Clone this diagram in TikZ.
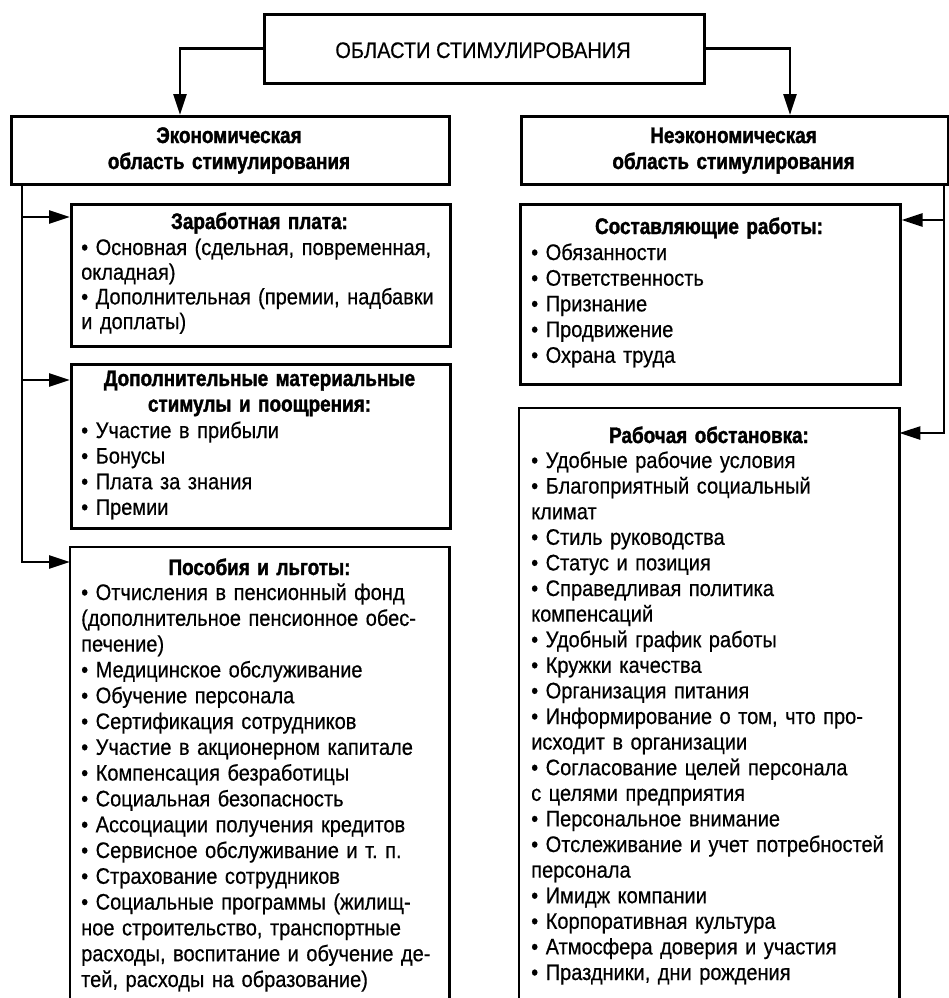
\documentclass[tikz,border=0pt]{standalone}
\usepackage{fontspec}
\setmainfont{Liberation Sans}[FakeStretch=0.89, FakeBold=0.5,
  BoldFeatures={FakeStretch=0.84, FakeBold=1.5}]
\usetikzlibrary{arrows.meta}
\begin{document}
\begin{tikzpicture}[x=1pt,y=-1pt,
  frame/.style={draw, line width=2.6pt, inner sep=0pt, anchor=north west},
  shell/.style={inner sep=0pt, anchor=north west},
  wire/.style={line width=2.6pt},
  link/.style={line width=2.6pt, -{Triangle[length=21pt,width=13pt]}},
  plain/.style={inner sep=0pt, anchor=base, font=\fontsize{22.5}{25.6}\selectfont},
  heading/.style={inner sep=0pt, anchor=base, align=center, text width=420pt,
    font=\fontsize{22.5}{26}\selectfont\bfseries},
  listing/.style={inner sep=0pt, anchor=base west, align=left, text width=440pt,
    font=\fontsize{22.5}{25.6}\selectfont},
]
\useasboundingbox (0,0) rectangle (949,998);

% frames
\node[frame, minimum width=440pt, minimum height=69pt] (root) at (263,13) {};
\node[frame, minimum width=438pt, minimum height=68pt] (eco) at (10,115) {};
\node[frame, minimum width=427pt, minimum height=68pt] (neco) at (520,115) {};
\node[frame, minimum width=379pt, minimum height=142pt] (wage) at (70,203) {};
\node[frame, minimum width=379pt, minimum height=164pt] (extra) at (70,363) {};
\node[shell, minimum width=379pt, minimum height=460pt] (benef) at (70,547) {};
\node[frame, minimum width=380pt, minimum height=180pt] (parts) at (519,203) {};
\node[shell, minimum width=380pt, minimum height=600pt] (env) at (519,408) {};

% open-ended frames running off the bottom edge
\draw[wire] (benef.south west) -- (benef.north west) -- (benef.north east) -- (benef.south east);
\draw[wire] (env.south west) -- (env.north west) -- (env.north east) -- (env.south east);

% labels
\node[plain] (rootlbl) at (483,58) {ОБЛАСТИ СТИМУЛИРОВАНИЯ};
\node[heading] (ecolbl) at (229,143) {Экономическая\\область стимулирования};
\node[heading] (necolbl) at (733.5,143) {Неэкономическая\\область стимулирования};

\node[heading] (wagettl) at (259.5,229) {Заработная плата:};
\node[listing, font=\fontsize{22.5}{24.7}\selectfont] (wagetxt) at (81,255) {%
• Основная (сдельная, повременная,\\
окладная)\\
• Дополнительная (премии, надбавки\\
и доплаты)};

\node[heading, font=\fontsize{22.5}{25.6}\selectfont\bfseries] (extrattl) at (259.5,386)
  {Дополнительные материальные\\стимулы и поощрения:};
\node[listing] (extratxt) at (81,438) {%
• Участие в прибыли\\
• Бонусы\\
• Плата за знания\\
• Премии};

\node[heading] (benefttl) at (259.5,575) {Пособия и льготы:};
\node[listing, font=\fontsize{22.5}{25.8}\selectfont] (beneftxt) at (81,600) {%
• Отчисления в пенсионный фонд\\
(дополнительное пенсионное обес-\\
печение)\\
• Медицинское обслуживание\\
• Обучение персонала\\
• Сертификация сотрудников\\
• Участие в акционерном капитале\\
• Компенсация безработицы\\
• Социальная безопасность\\
• Ассоциации получения кредитов\\
• Сервисное обслуживание и т.\ п.\\
• Страхование сотрудников\\
• Социальные программы (жилищ-\\
ное строительство, транспортные\\
расходы, воспитание и обучение де-\\
тей, расходы на образование)};

\node[heading] (partsttl) at (709,234) {Составляющие работы:};
\node[listing, font=\fontsize{22.5}{25.7}\selectfont] (partstxt) at (531,260) {%
• Обязанности\\
• Ответственность\\
• Признание\\
• Продвижение\\
• Охрана труда};

\node[heading] (envttl) at (709,443) {Рабочая обстановка:};
\node[listing] (envtxt) at (531,468) {%
• Удобные рабочие условия\\
• Благоприятный социальный\\
климат\\
• Стиль руководства\\
• Статус и позиция\\
• Справедливая политика\\
компенсаций\\
• Удобный график работы\\
• Кружки качества\\
• Организация питания\\
• Информирование о том, что про-\\
исходит в организации\\
• Согласование целей персонала\\
с целями предприятия\\
• Персональное внимание\\
• Отслеживание и учет потребностей\\
персонала\\
• Имидж компании\\
• Корпоративная культура\\
• Атмосфера доверия и участия\\
• Праздники, дни рождения};

% connectors from the root
\coordinate (ecoTop) at (180,115);
\coordinate (necoTop) at (790,115);
\draw[link] (root.west) -| (ecoTop);
\draw[link] (root.east) -| (necoTop);

% left spine
\coordinate (spL) at (22,183);
\coordinate (jWage) at (22,217);
\coordinate (jExtra) at (22,380);
\coordinate (jBen) at (22,562);
\draw[link] (spL) |- (jBen -| benef.west);
\draw[link] (jWage) -- (jWage -| wage.west);
\draw[link] (jExtra) -- (jExtra -| extra.west);

% right spine
\coordinate (spR) at (944,183);
\coordinate (jParts) at (944,220);
\coordinate (jEnv) at (944,433);
\draw[link] (spR) |- (jEnv -| env.east);
\draw[link] (jParts) -- (jParts -| parts.east);
\end{tikzpicture}
\end{document}
